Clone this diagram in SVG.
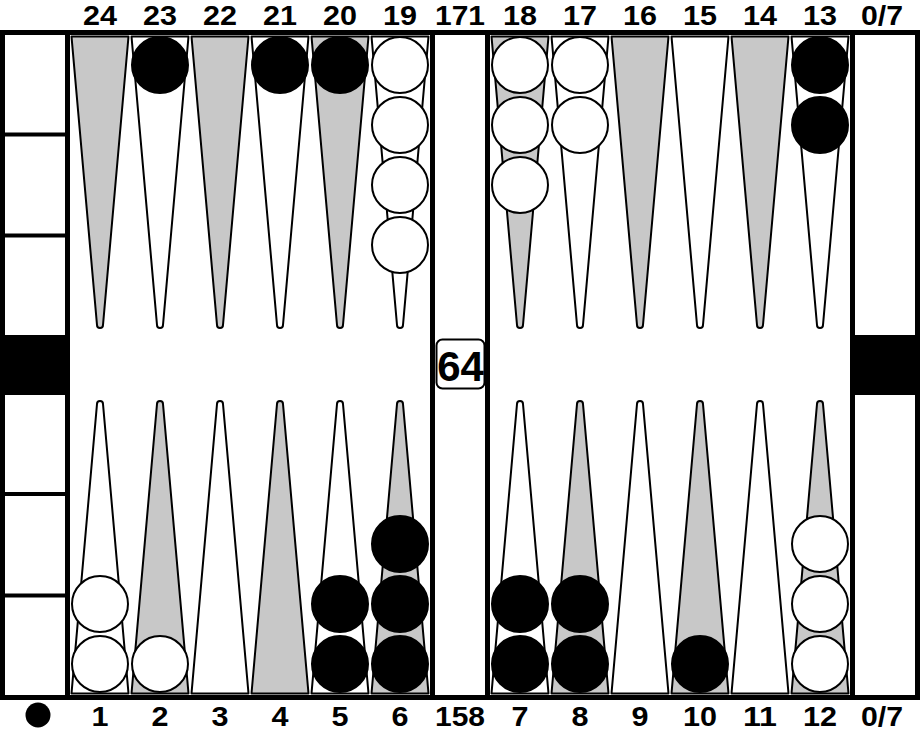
<svg xmlns="http://www.w3.org/2000/svg" width="920" height="730" viewBox="0 0 920 730">
<style>
.lbl{font-family:"Liberation Sans",Arial,sans-serif;font-weight:bold;font-size:28px;text-anchor:middle;fill:#000}
.pt{stroke:#000;stroke-width:2;stroke-linejoin:round}
.g{fill:#c8c8c8}
.w{fill:#fff}
.cw{fill:#fff;stroke:#000;stroke-width:2}
.cb{fill:#000;stroke:#000;stroke-width:2}
.frame{fill:none;stroke:#000;stroke-width:5}
</style>
<defs>
<path id="top" d="M-28.5,36.5 L28.5,36.5 L3,325 A3,3 0 0 1 -3,325 Z"/>
<path id="bot" d="M-28.5,693.5 L28.5,693.5 L3,404 A3,3 0 0 0 -3,404 Z"/>
</defs>
<rect x="0" y="0" width="920" height="730" fill="#fff"/>
<g id="board">
<rect class="frame" x="2.5" y="32.5" width="915" height="665"/>
<line x1="67.5" y1="30" x2="67.5" y2="700" stroke="#000" stroke-width="5"/>
<line x1="432.5" y1="30" x2="432.5" y2="700" stroke="#000" stroke-width="5"/>
<line x1="487.5" y1="30" x2="487.5" y2="700" stroke="#000" stroke-width="5"/>
<line x1="852.5" y1="30" x2="852.5" y2="700" stroke="#000" stroke-width="5"/>
<g stroke="#000" stroke-width="4">
<line x1="5" y1="134.5" x2="65" y2="134.5"/>
<line x1="5" y1="235.5" x2="65" y2="235.5"/>
<line x1="5" y1="494" x2="65" y2="494"/>
<line x1="5" y1="595.5" x2="65" y2="595.5"/>
</g>
<rect x="5" y="335" width="60" height="60" fill="#000"/>
<rect x="855" y="335" width="60" height="60" fill="#000"/>
</g>
<g id="points">
<use href="#top" class="pt g" x="100"/>
<use href="#top" class="pt w" x="160"/>
<use href="#top" class="pt g" x="220"/>
<use href="#top" class="pt w" x="280"/>
<use href="#top" class="pt g" x="340"/>
<use href="#top" class="pt w" x="400"/>
<use href="#top" class="pt g" x="520"/>
<use href="#top" class="pt w" x="580"/>
<use href="#top" class="pt g" x="640"/>
<use href="#top" class="pt w" x="700"/>
<use href="#top" class="pt g" x="760"/>
<use href="#top" class="pt w" x="820"/>
<use href="#bot" class="pt w" x="100"/>
<use href="#bot" class="pt g" x="160"/>
<use href="#bot" class="pt w" x="220"/>
<use href="#bot" class="pt g" x="280"/>
<use href="#bot" class="pt w" x="340"/>
<use href="#bot" class="pt g" x="400"/>
<use href="#bot" class="pt w" x="520"/>
<use href="#bot" class="pt g" x="580"/>
<use href="#bot" class="pt w" x="640"/>
<use href="#bot" class="pt g" x="700"/>
<use href="#bot" class="pt w" x="760"/>
<use href="#bot" class="pt g" x="820"/>
</g>
<g id="checkers">
<circle class="cb" cx="160" cy="65" r="28"/>
<circle class="cb" cx="280" cy="65" r="28"/>
<circle class="cb" cx="340" cy="65" r="28"/>
<circle class="cw" cx="400" cy="65" r="28"/>
<circle class="cw" cx="400" cy="125" r="28"/>
<circle class="cw" cx="400" cy="185" r="28"/>
<circle class="cw" cx="400" cy="245" r="28"/>
<circle class="cw" cx="520" cy="65" r="28"/>
<circle class="cw" cx="520" cy="125" r="28"/>
<circle class="cw" cx="520" cy="185" r="28"/>
<circle class="cw" cx="580" cy="65" r="28"/>
<circle class="cw" cx="580" cy="125" r="28"/>
<circle class="cb" cx="820" cy="65" r="28"/>
<circle class="cb" cx="820" cy="125" r="28"/>
<circle class="cw" cx="100" cy="664" r="28"/>
<circle class="cw" cx="100" cy="604" r="28"/>
<circle class="cw" cx="160" cy="664" r="28"/>
<circle class="cb" cx="340" cy="664" r="28"/>
<circle class="cb" cx="340" cy="604" r="28"/>
<circle class="cb" cx="400" cy="664" r="28"/>
<circle class="cb" cx="400" cy="604" r="28"/>
<circle class="cb" cx="400" cy="544" r="28"/>
<circle class="cb" cx="520" cy="664" r="28"/>
<circle class="cb" cx="520" cy="604" r="28"/>
<circle class="cb" cx="580" cy="664" r="28"/>
<circle class="cb" cx="580" cy="604" r="28"/>
<circle class="cb" cx="700" cy="664" r="28"/>
<circle class="cw" cx="820" cy="664" r="28"/>
<circle class="cw" cx="820" cy="604" r="28"/>
<circle class="cw" cx="820" cy="544" r="28"/>
</g>
<g id="cube">
<rect x="436.5" y="339.5" width="48" height="49" rx="6" ry="6" fill="#fff" stroke="#000" stroke-width="2"/>
<text x="460.5" y="380.5" font-family="Liberation Sans, Arial, sans-serif" font-weight="bold" font-size="42" text-anchor="middle">64</text>
</g>
<g id="labels-top">
<text class="lbl" x="100" y="25" textLength="34" lengthAdjust="spacingAndGlyphs">24</text>
<text class="lbl" x="160" y="25" textLength="34" lengthAdjust="spacingAndGlyphs">23</text>
<text class="lbl" x="220" y="25" textLength="34" lengthAdjust="spacingAndGlyphs">22</text>
<text class="lbl" x="280" y="25" textLength="34" lengthAdjust="spacingAndGlyphs">21</text>
<text class="lbl" x="340" y="25" textLength="34" lengthAdjust="spacingAndGlyphs">20</text>
<text class="lbl" x="400" y="25" textLength="34" lengthAdjust="spacingAndGlyphs">19</text>
<text class="lbl" x="460" y="25" textLength="50" lengthAdjust="spacingAndGlyphs">171</text>
<text class="lbl" x="520" y="25" textLength="34" lengthAdjust="spacingAndGlyphs">18</text>
<text class="lbl" x="580" y="25" textLength="34" lengthAdjust="spacingAndGlyphs">17</text>
<text class="lbl" x="640" y="25" textLength="34" lengthAdjust="spacingAndGlyphs">16</text>
<text class="lbl" x="700" y="25" textLength="34" lengthAdjust="spacingAndGlyphs">15</text>
<text class="lbl" x="760" y="25" textLength="34" lengthAdjust="spacingAndGlyphs">14</text>
<text class="lbl" x="820" y="25" textLength="34" lengthAdjust="spacingAndGlyphs">13</text>
<text class="lbl" x="882" y="25" textLength="42" lengthAdjust="spacingAndGlyphs">0/7</text>
</g>
<g id="labels-bottom">
<circle cx="38" cy="715" r="12.5" fill="#000"/>
<text class="lbl" x="100" y="726" textLength="17" lengthAdjust="spacingAndGlyphs">1</text>
<text class="lbl" x="160" y="726" textLength="17" lengthAdjust="spacingAndGlyphs">2</text>
<text class="lbl" x="220" y="726" textLength="17" lengthAdjust="spacingAndGlyphs">3</text>
<text class="lbl" x="280" y="726" textLength="17" lengthAdjust="spacingAndGlyphs">4</text>
<text class="lbl" x="340" y="726" textLength="17" lengthAdjust="spacingAndGlyphs">5</text>
<text class="lbl" x="400" y="726" textLength="17" lengthAdjust="spacingAndGlyphs">6</text>
<text class="lbl" x="460" y="726" textLength="50" lengthAdjust="spacingAndGlyphs">158</text>
<text class="lbl" x="520" y="726" textLength="17" lengthAdjust="spacingAndGlyphs">7</text>
<text class="lbl" x="580" y="726" textLength="17" lengthAdjust="spacingAndGlyphs">8</text>
<text class="lbl" x="640" y="726" textLength="17" lengthAdjust="spacingAndGlyphs">9</text>
<text class="lbl" x="700" y="726" textLength="34" lengthAdjust="spacingAndGlyphs">10</text>
<text class="lbl" x="760" y="726" textLength="34" lengthAdjust="spacingAndGlyphs">11</text>
<text class="lbl" x="820" y="726" textLength="34" lengthAdjust="spacingAndGlyphs">12</text>
<text class="lbl" x="882" y="726" textLength="42" lengthAdjust="spacingAndGlyphs">0/7</text>
</g>
</svg>
